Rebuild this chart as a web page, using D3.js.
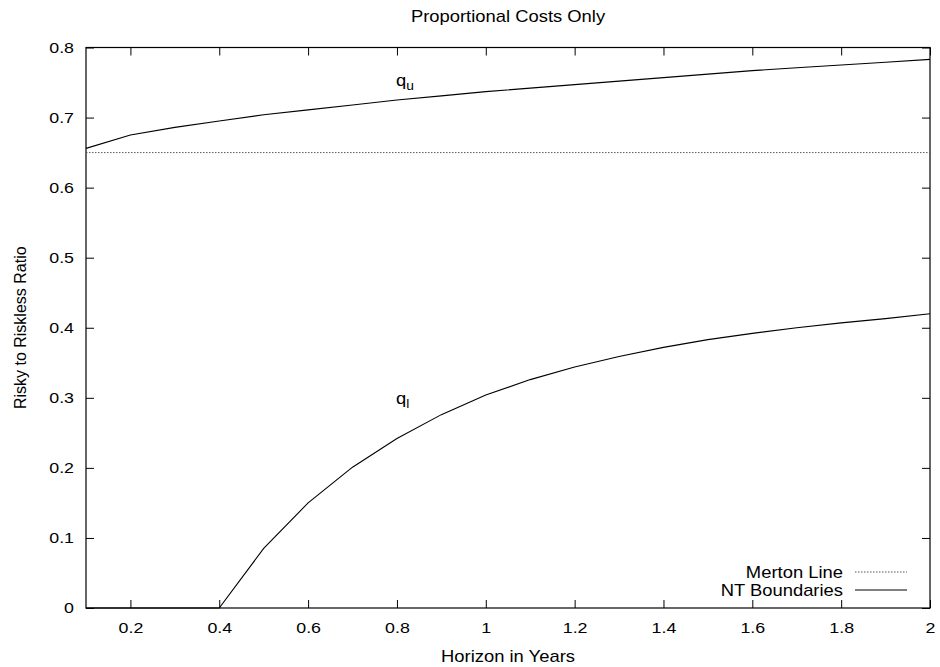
<!DOCTYPE html>
<html><head><meta charset="utf-8">
<script src="https://cdn.jsdelivr.net/npm/d3@7"></script>
<style>body{margin:0;background:#fff}svg{display:block}text{font-family:"Liberation Sans",Arial,sans-serif;fill:#000}</style>
</head><body><svg id="c" width="940" height="667"></svg>
<script>
const horizon = [0.1,0.2,0.3,0.4,0.5,0.6,0.7,0.8,0.9,1.0,1.1,1.2,1.3,1.4,1.5,1.6,1.7,1.8,1.9,2.0];
const qUpper = [0.656,0.675,0.686,0.695,0.704,0.711,0.718,0.725,0.731,0.737,0.742,0.747,0.752,0.757,0.762,0.767,0.771,0.775,0.779,0.783];
const qLower = [0,0,0,0,0.085,0.150,0.201,0.242,0.276,0.304,0.326,0.344,0.359,0.372,0.383,0.392,0.400,0.407,0.413,0.420];
const mertonValue = 0.65;
const xTicks = [0.2,0.4,0.6,0.8,1,1.2,1.4,1.6,1.8,2];
const yTicks = [0,0.1,0.2,0.3,0.4,0.5,0.6,0.7,0.8];

const svg = d3.select("#c");
const L=86,R=930,T=47.5,B=608;
const SX = 1.15;           // horizontal glyph stretch of the original renderer
const x = d3.scaleLinear().domain([0.1,2]).range([L,R]);
const y = d3.scaleLinear().domain([0,0.8]).range([B,T]);

const fmt = d => d3.format("")(+d.toFixed(1));
const gb = svg.append("g").attr("transform",`translate(0,${B})`)
  .call(d3.axisBottom(x).tickValues(xTicks).tickSize(-8).tickPadding(13.5).tickFormat(fmt));
const gt = svg.append("g").attr("transform",`translate(0,${T})`)
  .call(d3.axisTop(x).tickValues(xTicks).tickSize(-8).tickFormat(""));
const gl = svg.append("g").attr("transform",`translate(${L},0)`)
  .call(d3.axisLeft(y).tickValues(yTicks).tickSize(-8).tickPadding(12).tickFormat(fmt));
const gr = svg.append("g").attr("transform",`translate(${R},0)`)
  .call(d3.axisRight(y).tickValues(yTicks).tickSize(-8).tickFormat(""));
[gb,gt,gl,gr].forEach(g=>{
  g.select(".domain").remove();
  g.selectAll(".tick line").attr("stroke","#000").attr("stroke-width",1);
  g.selectAll("text").attr("font-size","15.5px").attr("fill","#000")
    .attr("font-family","Liberation Sans, Arial, sans-serif")
    .each(function(){
      const t = d3.select(this);
      const xv = +(t.attr("x")||0);
      t.attr("x", xv/SX).attr("transform",`scale(${SX},1)`);
    });
});
svg.append("rect").attr("x",L).attr("y",T).attr("width",R-L).attr("height",B-T)
  .attr("fill","none").attr("stroke","#000").attr("stroke-width",1.2);

svg.append("line").attr("x1",x(0.1)).attr("x2",x(2)).attr("y1",y(mertonValue)).attr("y2",y(mertonValue))
  .attr("stroke","#555").attr("stroke-width",1).attr("stroke-dasharray","1.5,1.5");

const line = d3.line().x((d,i)=>x(horizon[i])).y(d=>y(d));
svg.append("path").datum(qUpper).attr("d",line).attr("fill","none").attr("stroke","#000").attr("stroke-width",1.1);
svg.append("path").datum(qLower).attr("d",line).attr("fill","none").attr("stroke","#000").attr("stroke-width",1.1);

function stxt(px,py,str,anchor,size){
  return svg.append("text").attr("transform",`translate(${px},${py}) scale(${SX},1)`)
    .attr("text-anchor",anchor).attr("font-size",size).text(str);
}
function qlabel(px,py,sub){
  const t = svg.append("text").attr("transform",`translate(${px},${py}) scale(${SX},1)`).attr("font-size","16px");
  t.append("tspan").text("q");
  t.append("tspan").attr("font-size","12px").attr("dy","4").text(sub);
}
qlabel(x(0.8)-1, 86, "u");
qlabel(x(0.8)-1, 404, "l");

stxt((L+R)/2, 22, "Proportional Costs Only", "middle", "16px");
stxt((L+R)/2, 662, "Horizon in Years", "middle", "16px");
svg.append("text").attr("transform",`translate(26,${(T+B)/2}) rotate(-90)`).attr("text-anchor","middle")
  .attr("font-size","16px").text("Risky to Riskless Ratio");

const lg = [{label:"Merton Line",dash:"1.5,1.5",col:"#555",yy:572},{label:"NT Boundaries",dash:null,col:"#000",yy:590}];
lg.forEach(d=>{
  stxt(843, d.yy+5.5, d.label, "end", "16px");
  svg.append("line").attr("x1",855).attr("x2",907).attr("y1",d.yy).attr("y2",d.yy)
    .attr("stroke",d.col).attr("stroke-width",1).attr("stroke-dasharray",d.dash);
});
</script></body></html>
